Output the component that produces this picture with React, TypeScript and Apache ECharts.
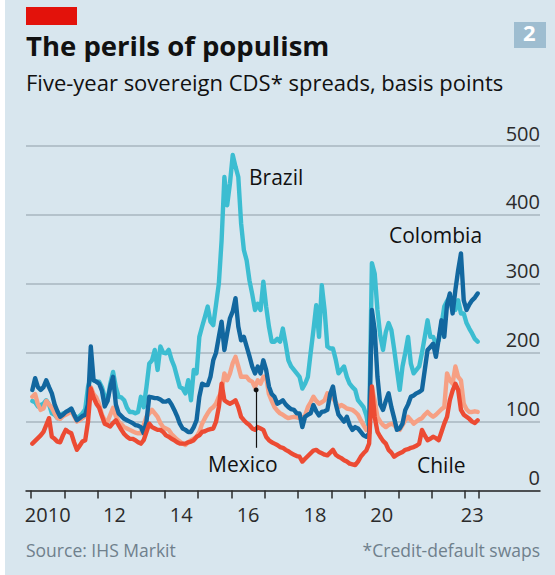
import React, { useEffect, useRef } from "react";
import * as echarts from "echarts";

const START_YEAR = 2010.04;
const MONTHS_PER_YEAR = 12;

const brazil = [
  130, 128, 122, 124, 126, 131, 125, 112, 110, 105, 108, 112,
  112, 115, 117, 110, 105, 108, 112, 118, 150, 165, 160, 158,
  158, 150, 136, 130, 155, 172, 150, 136, 135, 131, 120, 114,
  114, 112, 114, 136, 121, 150, 184, 189, 204, 175, 209, 200,
  199, 204, 190, 180, 165, 150, 148, 141, 160, 131, 175, 170,
  223, 238, 252, 267, 245, 240, 270, 300, 363, 455, 414, 446,
  487, 470, 455, 388, 349, 334, 305, 285, 262, 271, 262, 303,
  267, 238, 216, 216, 220, 216, 235, 213, 189, 180, 175, 170,
  165, 148, 155, 165, 200, 233, 269, 223, 298, 262, 209, 206,
  206, 190, 170, 175, 180, 165, 155, 150, 146, 131, 126, 121,
  109, 88, 330, 315, 262, 225, 204, 230, 243, 233, 205, 175,
  146, 180, 200, 223, 184, 170, 175, 180, 200, 223, 247, 223,
  223, 213, 218, 240, 267, 275, 281, 262, 262, 276, 257, 257,
  243, 235, 228, 220, 216,
];

const colombia = [
  146, 163, 150, 146, 150, 160, 150, 141, 125, 115, 107, 110,
  114, 116, 119, 110, 102, 105, 108, 110, 125, 209, 160, 158,
  155, 145, 122, 130, 150, 165, 125, 112, 108, 104, 102, 100,
  98, 95, 94, 92, 83, 100, 136, 135, 134, 134, 132, 129,
  129, 131, 125, 117, 108, 97, 90, 88, 85, 85, 92, 102,
  136, 155, 153, 153, 165, 189, 200, 223, 245, 204, 228, 250,
  260, 279, 238, 218, 223, 209, 195, 180, 170, 180, 170, 189,
  175, 151, 140, 136, 126, 128, 131, 125, 121, 118, 117, 112,
  112, 92, 107, 110, 112, 124, 115, 109, 114, 115, 117, 140,
  151, 126, 110, 105, 100, 107, 95, 88, 92, 90, 85, 80,
  78, 83, 262, 233, 165, 125, 117, 130, 141, 121, 105, 88,
  90, 97, 117, 125, 136, 138, 141, 143, 146, 175, 204, 208,
  213, 194, 220, 247, 223, 270, 286, 257, 291, 320, 344, 276,
  262, 270, 276, 280, 286,
];

const mexico = [
  136, 140, 125, 117, 119, 130, 125, 120, 112, 105, 104, 108,
  110, 112, 115, 108, 100, 102, 105, 108, 120, 150, 140, 135,
  125, 110, 102, 100, 110, 120, 108, 100, 96, 92, 90, 88,
  86, 84, 83, 83, 95, 107, 112, 117, 112, 107, 98, 92,
  90, 88, 82, 78, 74, 71, 68, 66, 70, 73, 75, 78,
  85, 97, 105, 112, 118, 121, 126, 136, 143, 170, 160, 170,
  185, 194, 180, 165, 165, 165, 160, 158, 150, 160, 155, 165,
  165, 140, 130, 121, 116, 112, 110, 107, 105, 106, 107, 106,
  105, 105, 109, 121, 128, 136, 130, 126, 128, 131, 141, 138,
  134, 128, 121, 124, 122, 119, 118, 117, 114, 110, 102, 95,
  88, 92, 150, 130, 107, 100, 95, 92, 95, 97, 95, 90,
  88, 95, 102, 107, 102, 97, 100, 103, 105, 110, 114, 110,
  107, 110, 114, 118, 121, 170, 160, 155, 180, 165, 160, 126,
  118, 114, 114, 115, 114,
];

const chile = [
  68, 72, 76, 80, 85, 95, 105, 78, 75, 71, 70, 80,
  88, 85, 83, 70, 59, 65, 71, 73, 100, 148, 135, 126,
  120, 108, 97, 95, 93, 98, 102, 95, 88, 82, 78, 75,
  75, 73, 70, 68, 73, 85, 97, 92, 90, 88, 88, 85,
  80, 78, 75, 73, 70, 68, 68, 68, 70, 71, 73, 78,
  80, 85, 86, 88, 89, 90, 100, 121, 155, 131, 128, 126,
  128, 131, 121, 107, 102, 98, 95, 90, 88, 92, 90, 88,
  78, 73, 70, 68, 66, 63, 62, 59, 57, 54, 52, 50,
  49, 42, 46, 50, 54, 58, 59, 56, 54, 52, 51, 55,
  59, 52, 49, 47, 44, 42, 39, 38, 37, 42, 49, 54,
  58, 68, 151, 107, 85, 78, 72, 68, 59, 55, 49, 52,
  54, 56, 59, 60, 62, 63, 65, 68, 88, 80, 73, 75,
  78, 76, 73, 85, 97, 107, 131, 145, 155, 146, 117, 110,
  107, 104, 100, 98, 102,
];

const xTickValues = [2010, 2011, 2012, 2013, 2014, 2015, 2016, 2017, 2018, 2019, 2020, 2021, 2022, 2023, 2023.42];
const xLabelValues = [2010.5, 2012.5, 2014.5, 2016.5, 2018.5, 2020.5, 2023.21];
const xLabelTexts = ["2010", "12", "14", "16", "18", "20", "23"];
const yTicks = [0, 100, 200, 300, 400, 500];

const mexicoPointer = { x: 2016.74, from: 146, to: 62 };

const FONT = "'Open Sans', sans-serif";

export default function App() {
  const ref = useRef<HTMLDivElement>(null);
  useEffect(() => {
    document.body.style.margin = "0";
    const chart = echarts.init(ref.current!, null, { renderer: "svg" });
    const toPairs = (arr: number[]) => arr.map((v, i) => [START_YEAR + i / MONTHS_PER_YEAR, v]);
    const lineSeries = (name: string, arr: number[], color: string, extra: any = {}) => ({
      name,
      type: "line",
      data: toPairs(arr),
      showSymbol: false,
      symbol: "none",
      lineStyle: { color, width: 4.4, join: "round", cap: "round" },
      itemStyle: { color },
      ...extra,
    });
    chart.setOption({
      animation: false,
      backgroundColor: "#d8e6ee",
      textStyle: { fontFamily: FONT },
      grid: { left: 26, right: 15, top: 146, bottom: 84.5 },
      xAxis: {
        type: "value",
        min: 2009.85,
        max: 2025.24,
        axisLine: { show: true, lineStyle: { color: "#2b2b2b", width: 1.5 } },
        axisTick: { show: true, customValues: xTickValues, length: 8, lineStyle: { color: "#2b2b2b", width: 1.5 } },
        axisLabel: {
          customValues: xLabelValues,
          formatter: (v: number) => {
            const idx = xLabelValues.findIndex((p) => Math.abs(p - v) < 0.01);
            return idx >= 0 ? xLabelTexts[idx] : "";
          },
          color: "#2b2b2b",
          fontSize: 20,
          margin: 14,
          fontFamily: FONT,
        },
        splitLine: { show: false },
      },
      yAxis: {
        type: "value",
        position: "right",
        min: 0,
        max: 500,
        interval: 100,
        axisLine: { show: false },
        axisTick: { show: false },
        axisLabel: {
          inside: true,
          align: "right",
          verticalAlign: "bottom",
          margin: 0,
          padding: [0, 0, 3, 0],
          color: "#2b2b2b",
          fontSize: 20,
          fontFamily: FONT,
          formatter: (v: number) => (yTicks.includes(v) ? String(v) : ""),
        },
        splitLine: { show: true, lineStyle: { color: "#a9b6bf", width: 1.5 } },
      },
      series: [
        lineSeries("Brazil", brazil, "#3cbdd1"),
        lineSeries("Mexico", mexico, "#f6a084", {
          markLine: {
            silent: true,
            symbol: ["circle", "none"],
            symbolSize: 5,
            label: { show: false },
            lineStyle: { color: "#111", width: 1.2, type: "solid" },
            data: [[{ coord: [mexicoPointer.x, mexicoPointer.from] }, { coord: [mexicoPointer.x, mexicoPointer.to] }]],
          },
        }),
        lineSeries("Colombia", colombia, "#12679f"),
        lineSeries("Chile", chile, "#ec4b33"),
      ],
      graphic: [
        { type: "rect", left: 0, top: 0, shape: { width: 5, height: 575 }, style: { fill: "#ffffff" } },
        { type: "rect", left: 26, top: 7, shape: { width: 51, height: 18 }, style: { fill: "#e3120b" } },
        { type: "rect", left: 514, top: 22, shape: { width: 32, height: 26 }, style: { fill: "#9ebdd0" } },
        { type: "text", left: 523, top: 21, style: { text: "2", font: `bold 22px ${FONT}`, fill: "#ffffff" } },
        { type: "text", left: 26, top: 31, style: { text: "The perils of populism", font: `bold 27.5px ${FONT}`, fill: "#111111" } },
        { type: "text", left: 26, top: 71, style: { text: "Five-year sovereign CDS* spreads, basis points", font: `22px ${FONT}`, fill: "#111111" } },
        { type: "text", left: 249, top: 166, style: { text: "Brazil", font: `21px ${FONT}`, fill: "#111111" } },
        { type: "text", left: 389, top: 224, style: { text: "Colombia", font: `21px ${FONT}`, fill: "#111111" } },
        { type: "text", left: 208, top: 453, style: { text: "Mexico", font: `21px ${FONT}`, fill: "#111111" } },
        { type: "text", left: 417, top: 454, style: { text: "Chile", font: `21px ${FONT}`, fill: "#111111" } },
        { type: "text", left: 26, top: 541, style: { text: "Source: IHS Markit", font: `17.5px ${FONT}`, fill: "#6f808c" } },
        { type: "text", right: 15, top: 541, style: { text: "*Credit-default swaps", font: `17.5px ${FONT}`, fill: "#6f808c" } },
      ],
    });
    return () => chart.dispose();
  }, []);
  return <div ref={ref} style={{ width: 555, height: 575 }} />;
}
